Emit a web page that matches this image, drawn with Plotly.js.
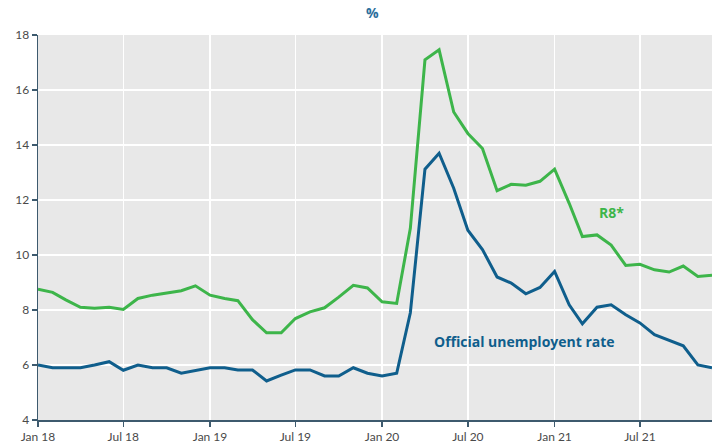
<!DOCTYPE html>
<html>
<head>
<meta charset="utf-8">
<script src="https://cdn.plot.ly/plotly-3.0.1.min.js"></script>
<style>html,body{margin:0;padding:0;background:#fff}#chart{width:719px;height:443px}</style>
</head>
<body>
<div id="chart"></div>
<script>
const months = [
 "2018-01","2018-02","2018-03","2018-04","2018-05","2018-06","2018-07","2018-08","2018-09","2018-10","2018-11","2018-12",
 "2019-01","2019-02","2019-03","2019-04","2019-05","2019-06","2019-07","2019-08","2019-09","2019-10","2019-11","2019-12",
 "2020-01","2020-02","2020-03","2020-04","2020-05","2020-06","2020-07","2020-08","2020-09","2020-10","2020-11","2020-12",
 "2021-01","2021-02","2021-03","2021-04","2021-05","2021-06","2021-07","2021-08","2021-09","2021-10","2021-11","2021-12"
];
const r8 = [
 8.76,8.64,8.37,8.1,8.06,8.1,8.02,8.42,8.54,8.62,8.7,8.88,
 8.54,8.42,8.34,7.65,7.17,7.17,7.69,7.93,8.08,8.47,8.9,8.8,
 8.3,8.24,10.97,17.1,17.46,15.2,14.42,13.87,12.34,12.57,12.54,12.68,
 13.12,11.88,10.67,10.73,10.36,9.62,9.66,9.46,9.38,9.6,9.22,9.26
];
const official = [
 6.0,5.9,5.9,5.9,6.0,6.12,5.81,6.0,5.9,5.9,5.7,5.8,
 5.9,5.9,5.82,5.82,5.42,5.63,5.82,5.82,5.6,5.6,5.9,5.7,
 5.6,5.7,7.9,13.12,13.7,12.43,10.9,10.2,9.2,8.98,8.59,8.82,
 9.4,8.19,7.5,8.1,8.19,7.83,7.53,7.1,6.9,6.7,6.0,5.9
];
const tickVals = ["2018-01-01","2018-07-01","2019-01-01","2019-07-01","2020-01-01","2020-07-01","2021-01-01","2021-07-01"];
const tickText = ["Jan 18","Jul 18","Jan 19","Jul 19","Jan 20","Jul 20","Jan 21","Jul 21"];
const yTicks = [4,6,8,10,12,14,16,18];

const green = "#3db54a";
const blue = "#0f5e8c";
const axisCol = "#3d5a6e";

const traces = [
 {x: months, y: r8, type: "scatter", mode: "lines", name: "R8*", line: {color: green, width: 3}},
 {x: months, y: official, type: "scatter", mode: "lines", name: "Official unemployent rate", line: {color: blue, width: 3}}
];

const layout = {
 width: 719, height: 443,
 margin: {l: 38, r: 7, t: 35, b: 23},
 paper_bgcolor: "#ffffff",
 plot_bgcolor: "#e8e8e8",
 showlegend: false,
 font: {family: "Lato, 'DejaVu Sans', sans-serif", size: 12, color: "#4a4a4a"},
 xaxis: {
  type: "date",
  range: ["2018-01-01", "2021-12-01"],
  tickvals: tickVals, ticktext: tickText,
  showgrid: true, gridcolor: "#ffffff", gridwidth: 1.5,
  showline: true, linecolor: axisCol, linewidth: 1.5,
  ticks: "outside", ticklen: 5, tickcolor: axisCol, tickwidth: 1.5,
  tickfont: {size: 12, color: "#4a4a4a"},
  zeroline: false, fixedrange: true
 },
 yaxis: {
  range: [4, 18],
  tickvals: yTicks,
  showgrid: true, gridcolor: "#ffffff", gridwidth: 1.5,
  showline: true, linecolor: axisCol, linewidth: 1.5,
  ticks: "outside", ticklen: 5, tickcolor: axisCol, tickwidth: 1.5,
  tickfont: {size: 12, color: "#4a4a4a"},
  zeroline: false, fixedrange: true
 },
 annotations: [
  {xref: "paper", yref: "paper", x: 0.497, y: 1.0, yanchor: "bottom", yshift: 11, showarrow: false,
   text: "<b>%</b>", font: {family: "'Open Sans', sans-serif", size: 14, color: "#2b6e9c"}},
  {x: "2020-04-15", y: 6.84, xanchor: "left", showarrow: false,
   text: "<b>Official unemployent rate</b>", font: {family: "'Open Sans', sans-serif", size: 14, color: blue}},
  {x: "2021-03-31", y: 11.56, xanchor: "left", showarrow: false,
   text: "<b>R8*</b>", font: {family: "'Open Sans', sans-serif", size: 14, color: green}}
 ]
};

Plotly.newPlot("chart", traces, layout, {displayModeBar: false, staticPlot: true});
</script>
</body>
</html>
